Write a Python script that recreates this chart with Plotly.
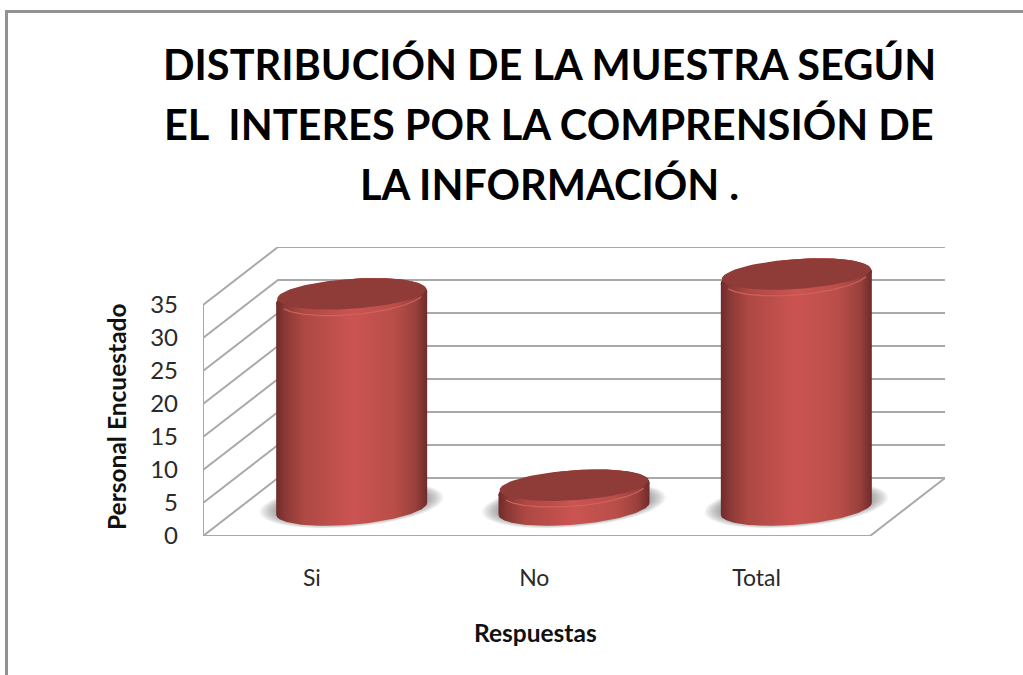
import numpy as np
import plotly.graph_objects as go

categories = ["Si", "No", "Total"]
values = [32, 3, 35]
y_ticks = [0, 5, 10, 15, 20, 25, 30, 35]
title_lines = ["DISTRIBUCIÓN DE LA MUESTRA SEGÚN",
               "EL  INTERES POR LA COMPRENSIÓN DE",
               "LA INFORMACIÓN ."]
x_title = "Respuestas"
y_title = "Personal Encuestado"

W, H = 1023, 675
L, R, T, B = 203, 945, 247, 536
PX_X = 222.33      # pixels per category
PX_Y = 6.6         # pixels per value unit
DEPTH_X = 75 / PX_X
DEPTH_Y = 58 / PX_Y
A = 75.5 / PX_X
BB = 18.5 / PX_Y
S = 6 / PX_Y

GRID = "#a9a9a9"
FONT = "Lato"
COLORS = [[0, "#6f2b2a"], [0.06, "#8a3936"], [0.18, "#ad4843"], [0.5, "#cb5451"],
          [0.78, "#b94e49"], [0.92, "#9a413c"], [1, "#6f2b2a"]]
CAP = "#8f3b37"

fig = go.Figure()


def line(xs, ys, color=GRID, width=2):
    fig.add_trace(go.Scatter(x=list(xs), y=list(ys), mode="lines", line=dict(color=color, width=width),
                             hoverinfo="skip", showlegend=False))


def ellipse(cx, cy, sa=1.0, sb=1.0, t0=0.0, t1=2 * np.pi):
    t = np.linspace(t0, t1, 90)
    return cx + A * sa * np.cos(t), cy + (BB * sb * np.sin(t) + S * sb * np.cos(t))


def fill(xs, ys, color=None, gradient=False):
    kw = dict(x=list(xs), y=list(ys), mode="lines", fill="toself", line=dict(width=0),
              hoverinfo="skip", showlegend=False)
    if gradient:
        kw["fillgradient"] = dict(type="horizontal", colorscale=COLORS)
    else:
        kw["fillcolor"] = color
    fig.add_trace(go.Scatter(**kw))


# walls and floor
for v in y_ticks:
    line([0, DEPTH_X, 3 + DEPTH_X], [v, v + DEPTH_Y, v + DEPTH_Y])
line([0, 0], [0, y_ticks[-1]])
line([0, 3, 3 + DEPTH_X], [0, 0, DEPTH_Y])

# cylinders
for i, v in enumerate(values):
    cx = i + 0.5 + DEPTH_X / 2
    base = DEPTH_Y / 2 - 0.25
    # soft shadow
    for k in np.linspace(1.22, 1.0, 12):
        xs, ys = ellipse(cx, base + 0.6, k, k)
        fill(xs, ys, "rgba(70,70,70,0.05)")
    # body: lower arc of the base closed over the top
    t = np.linspace(np.pi, 2 * np.pi, 90)
    bx = cx + A * np.cos(t)
    by = base + 0.87 * BB * np.sin(t) + S * np.cos(t)
    tx, ty = ellipse(cx, base + v, t0=0, t1=np.pi)
    fill(np.r_[bx, tx], np.r_[by, ty], gradient=True)
    # cap with bevel
    xs, ys = ellipse(cx, base + v)
    fill(xs, ys, gradient=True)
    xs, ys = ellipse(cx, base + v + 0.55, 0.985, 0.81)
    fill(xs, ys, CAP)
    xs, ys = ellipse(cx, base + v + 0.12, 0.97, 0.98, t0=1.12 * np.pi, t1=1.9 * np.pi)
    line(xs, ys, "#d0625c", 1.2)

pw, ph = R - L, B - T
px = lambda p: (p - L) / pw
py = lambda p: (B - p) / ph

title_notes = [dict(text=f"<b>{t}</b>", xref="paper", yref="paper", x=px(549), y=py(yc),
                    xanchor="center", yanchor="middle", showarrow=False,
                    font=dict(family=FONT, size=41.5, color="black"))
               for t, yc in zip(title_lines, [64, 124, 184])]
axis_notes = [
    dict(text=f"<b>{x_title}</b>", xref="paper", yref="paper", x=px(535), y=py(632),
         xanchor="center", yanchor="middle", showarrow=False,
         font=dict(family=FONT, size=24.5, color="#111111")),
    dict(text=f"<b>{y_title}</b>", xref="paper", yref="paper", x=px(116), y=py(417),
         xanchor="center", yanchor="middle", showarrow=False, textangle=-90,
         font=dict(family=FONT, size=24.5, color="#111111")),
]

fig.update_layout(
    width=W, height=H, autosize=False,
    paper_bgcolor="white", plot_bgcolor="white",
    margin=dict(l=L, r=W - R, t=T, b=H - B, pad=0),
    font=dict(family=FONT, color="#1a1a1a"),
    showlegend=False,
    annotations=title_notes + axis_notes,
    xaxis=dict(range=[0, 3 + DEPTH_X], tickmode="array",
               tickvals=[i + 0.49 for i in range(len(categories))], ticktext=categories,
               showgrid=False, zeroline=False, showline=False, ticks="",
               ticklabelstandoff=26, tickfont=dict(size=23, family=FONT, color="#2a2a2a")),
    yaxis=dict(range=[0, (B - T) / PX_Y], tickmode="array", tickvals=y_ticks,
               showgrid=False, zeroline=False, showline=False, ticks="",
               ticklabelstandoff=24, tickfont=dict(size=24, family=FONT, color="#2a2a2a")),
    shapes=[dict(type="path", xref="paper", yref="paper",
                 path=f"M {px(6.5)} {py(H + 5)} L {px(6.5)} {py(11.5)} L {px(W + 5)} {py(11.5)}",
                 line=dict(color="#929292", width=3))],
)

fig.write_html("out.html", post_script="document.body.style.margin='0';",
               config={"displayModeBar": False})
